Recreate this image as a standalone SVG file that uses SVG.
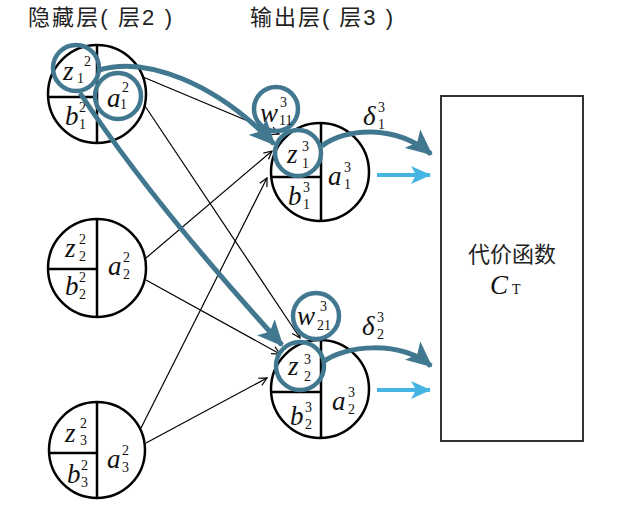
<svg xmlns="http://www.w3.org/2000/svg" width="618" height="512" viewBox="0 0 618 512">
<defs>
<style>
.nc{fill:#fff;stroke:#000;stroke-width:2.5}
.ln{stroke:#000;stroke-width:2.5;fill:none}
.v{font-family:"Liberation Serif",serif;font-style:italic;font-size:27px;fill:#111}
.d{font-family:"Liberation Serif",serif;font-size:14px;fill:#111}
.t{font-family:"Liberation Sans","Noto Sans CJK SC",sans-serif;font-size:22px;fill:#222}
.thin{stroke:#000;stroke-width:1.2;fill:none;marker-end:url(#open)}
.hl{fill:none;stroke:#41788f;stroke-width:4.5}
.thick{fill:none;stroke:#41788f;stroke-width:5;marker-end:url(#big)}
.lb{fill:none;stroke:#45b4e2;stroke-width:4;marker-end:url(#lbh)}
</style>
<marker id="open" markerUnits="userSpaceOnUse" markerWidth="12" markerHeight="12" refX="9" refY="5" orient="auto" viewBox="0 0 12 10">
<path d="M1,1 L9,5 L1,9" fill="none" stroke="#000" stroke-width="1.2"/>
</marker>
<marker id="big" markerUnits="userSpaceOnUse" markerWidth="26" markerHeight="24" refX="24" refY="12" orient="auto" viewBox="0 0 26 24">
<path d="M0,0 L26,12 L0,24 L6,12 Z" fill="#41788f"/>
</marker>
<marker id="lbh" markerUnits="userSpaceOnUse" markerWidth="20" markerHeight="18" refX="19" refY="9" orient="auto" viewBox="0 0 20 18">
<path d="M0,0 L20,9 L0,18 L5,9 Z" fill="#45b4e2"/>
</marker>
</defs>
<rect width="618" height="512" fill="#fff"/>

<text class="t" x="28" y="25" textLength="144" lengthAdjust="spacing">隐藏层( 层2 )</text>
<text class="t" x="250" y="25" textLength="143" lengthAdjust="spacing">输出层( 层3 )</text>

<g id="connectors">
<line class="thin" x1="143" y1="77" x2="279" y2="134"/>
<line class="thin" x1="145" y1="106" x2="300" y2="338"/>
<line class="thin" x1="146" y1="258" x2="272" y2="151"/>
<line class="thin" x1="146" y1="280" x2="280" y2="354"/>
<line class="thin" x1="141" y1="428" x2="267" y2="178"/>
<line class="thin" x1="146" y1="443" x2="267" y2="378"/>
</g>

<g id="l2n1">
<circle class="nc" cx="97" cy="94" r="49"/>
<path class="ln" d="M97 45 V143 M48 97 H97"/>
<text class="v" x="63" y="80">z</text><text class="d" x="84" y="66">2</text><text class="d" x="77" y="83">1</text>
<text class="v" x="107" y="107">a</text><text class="d" x="122" y="92">2</text><text class="d" x="120" y="109">1</text>
<text class="v" x="65" y="125">b</text><text class="d" x="79" y="112">2</text><text class="d" x="79" y="129">1</text>
</g>
<g id="l2n2">
<circle class="nc" cx="97" cy="268" r="49"/>
<path class="ln" d="M97 219 V317 M48 269 H97"/>
<text class="v" x="65" y="257">z</text><text class="d" x="79" y="244">2</text><text class="d" x="79" y="261">2</text>
<text class="v" x="108" y="275">a</text><text class="d" x="123" y="262">2</text><text class="d" x="123" y="279">2</text>
<text class="v" x="65" y="295">b</text><text class="d" x="79" y="282">2</text><text class="d" x="79" y="299">2</text>
</g>
<g id="l2n3">
<circle class="nc" cx="97" cy="450" r="48"/>
<path class="ln" d="M97 402 V498 M49 453 H97"/>
<text class="v" x="65" y="442">z</text><text class="d" x="80" y="428">2</text><text class="d" x="80" y="445">3</text>
<text class="v" x="107" y="468">a</text><text class="d" x="122" y="455">2</text><text class="d" x="122" y="472">3</text>
<text class="v" x="67" y="483">b</text><text class="d" x="81" y="470">2</text><text class="d" x="81" y="487">3</text>
</g>
<g id="l3n1">
<circle class="nc" cx="320" cy="172" r="49"/>
<path class="ln" d="M321 123 V221 M271 177 H321"/>
<text class="v" x="287" y="163">z</text><text class="d" x="302" y="151">3</text><text class="d" x="302" y="168">1</text>
<text class="v" x="328" y="185">a</text><text class="d" x="344" y="172">3</text><text class="d" x="344" y="189">1</text>
<text class="v" x="288" y="205">b</text><text class="d" x="303" y="192">3</text><text class="d" x="303" y="209">1</text>
</g>
<g id="l3n2">
<circle class="nc" cx="320" cy="389" r="49"/>
<path class="ln" d="M321 340 V438 M271 392 H321"/>
<text class="v" x="288" y="375">z</text><text class="d" x="304" y="364">3</text><text class="d" x="304" y="381">2</text>
<text class="v" x="332" y="410">a</text><text class="d" x="348" y="397">3</text><text class="d" x="348" y="414">2</text>
<text class="v" x="290" y="425">b</text><text class="d" x="305" y="412">3</text><text class="d" x="305" y="429">2</text>
</g>

<g id="cost">
<rect x="441" y="96" width="142" height="345" fill="none" stroke="#333" stroke-width="2"/>
<text class="t" x="512" y="262" text-anchor="middle" font-size="23">代价函数</text>
<text class="v" x="490" y="294">C</text><text class="d" x="512" y="294" font-size="13">T</text>
</g>

<g id="highlights">
<circle class="hl" cx="76" cy="68" r="23"/>
<circle class="hl" cx="118" cy="96" r="23"/>
<circle class="hl" cx="276" cy="109" r="22"/>
<circle class="hl" cx="298" cy="153" r="23"/>
<circle class="hl" cx="316" cy="316" r="23"/>
<circle class="hl" cx="300" cy="366" r="24"/>
<text class="v" x="260" y="122">w</text><text class="d" x="280" y="107">3</text><text class="d" x="279" y="125">11</text>
<text class="v" x="297" y="325">w</text><text class="d" x="320" y="311">3</text><text class="d" x="317" y="330">21</text>
<text class="v" x="363" y="125">δ</text><text class="d" x="378" y="112">3</text><text class="d" x="378" y="129">1</text>
<text class="v" x="362" y="335">δ</text><text class="d" x="377" y="322">3</text><text class="d" x="377" y="339">2</text>
</g>

<g id="flows">
<path class="thick" d="M99 70 C145 56 215 82 274 144"/>
<path class="thick" d="M80 93 Q150 200 282 345"/>
<path class="thick" d="M322 146 C345 128 395 124 431 154"/>
<path class="thick" d="M323 362 C345 345 400 340 431 366"/>
<line class="lb" x1="377" y1="175" x2="430" y2="175"/>
<line class="lb" x1="377" y1="390" x2="430" y2="390"/>
</g>
</svg>
